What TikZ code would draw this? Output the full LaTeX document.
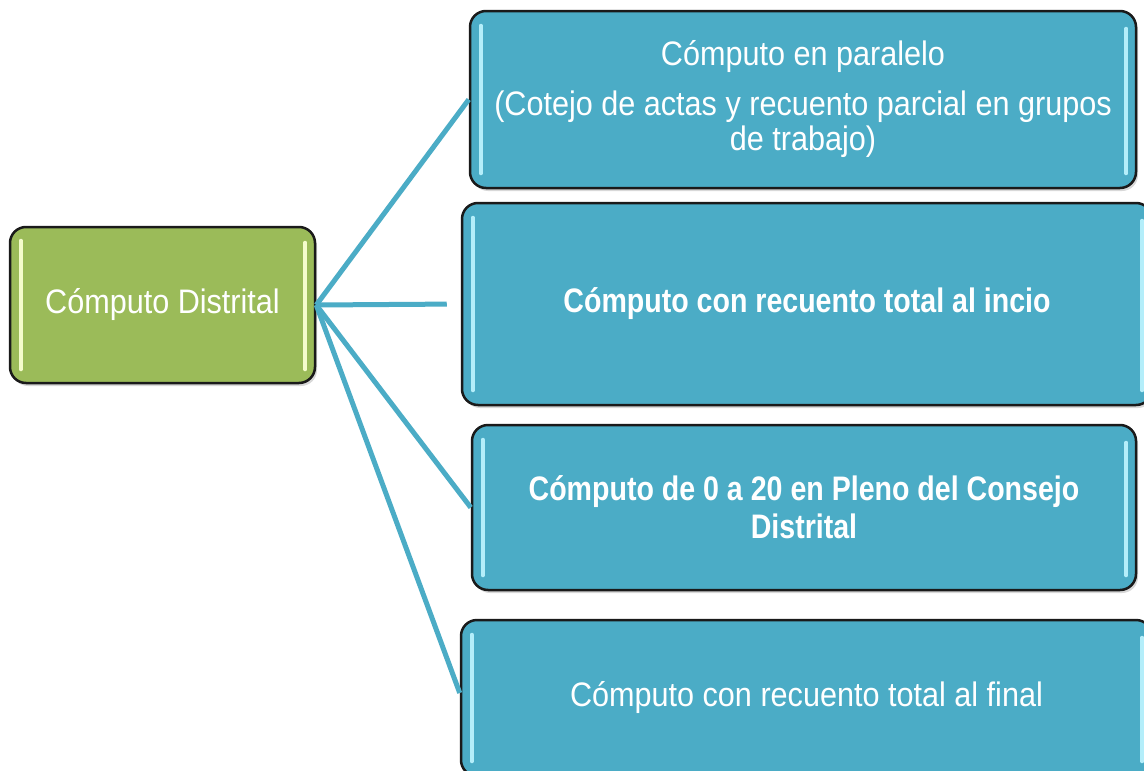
\documentclass[tikz,border=0pt]{standalone}
\usepackage{fontspec}
\setmainfont{Liberation Sans}
\newfontfamily\regnarrow[FakeStretch=0.9]{Liberation Sans}
\newfontfamily\boldnarrow[FakeStretch=0.84]{Liberation Sans}
\usetikzlibrary{shadows}
\definecolor{boxblue}{HTML}{4BACC6}
\definecolor{boxgreen}{HTML}{9BBB59}
\definecolor{hlblue}{HTML}{B4EEFA}
\definecolor{hlgreen}{HTML}{F4FCCC}
\definecolor{edgecol}{HTML}{1A1A1A}
\begin{document}
\begin{tikzpicture}[x=1pt,y=-1pt,
 box/.style={draw=edgecol,line width=2.5pt,rounded corners=16pt,inner sep=0pt,text=white,align=center,
   drop shadow={shadow xshift=2pt,shadow yshift=-3pt,opacity=0.3}},
 bluebox/.style={box,fill=boxblue},
 greenbox/.style={box,fill=boxgreen},
 conn/.style={draw=boxblue,line width=5pt},
 hl/.style={line width=4pt,line cap=round},
 regtext/.style={font=\regnarrow\fontsize{34}{35}\selectfont},
 boldtext/.style={font=\boldnarrow\bfseries\fontsize{34}{38}\selectfont},
]
\useasboundingbox (0,0) rectangle (1144,771);
\clip (0,0) rectangle (1144,771);
\fill[white] (0,0) rectangle (1144,771);

\node[greenbox,regtext,minimum width=305pt,minimum height=156pt] (cd) at (162.5,305) {Cómputo Distrital};
\node[bluebox,regtext,minimum width=666pt,minimum height=177pt] (b1) at (803,99.5)
  {Cómputo en paralelo\\[15pt](Cotejo de actas y recuento parcial en grupos\\de trabajo)};
\node[bluebox,boldtext,minimum width=690pt,minimum height=202pt] (b2) at (807,304)
  {Cómputo con recuento total al incio};
\node[bluebox,boldtext,minimum width=664pt,minimum height=165pt] (b3) at (804,507.5)
  {Cómputo de 0 a 20 en Pleno del Consejo\\Distrital};
\node[bluebox,regtext,minimum width=691pt,minimum height=156pt] (b4) at (806.5,698)
  {\raisebox{6pt}{Cómputo con recuento total al final}};

\draw[hl,hlgreen] ([xshift=12pt,yshift=-15pt]cd.north west) -- ([xshift=12pt,yshift=15pt]cd.south west);
\draw[hl,hlgreen] ([xshift=-11pt,yshift=-17pt]cd.north east) -- ([xshift=-11pt,yshift=15pt]cd.south east);
\foreach \n in {b1,b2,b3,b4} {
  \draw[hl,hlblue] ([xshift=12pt,yshift=-16pt]\n.north west) -- ([xshift=12pt,yshift=16pt]\n.south west);
  \draw[hl,hlblue] ([xshift=-11pt,yshift=-19pt]\n.north east) -- ([xshift=-11pt,yshift=16pt]\n.south east);
}

\draw[conn] (cd.east) -- (b1.west);
\draw[conn,shorten >=14pt] (cd.east) -- (b2.west);
\draw[conn] (cd.east) -- (b3.west);
\draw[conn] (cd.east) -- ([yshift=5pt]b4.west);
\end{tikzpicture}
\end{document}
